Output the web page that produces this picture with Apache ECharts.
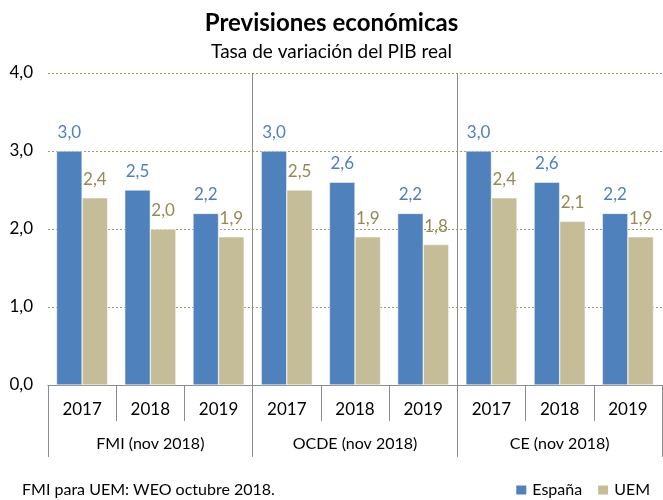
<!DOCTYPE html>
<html><head><meta charset="utf-8">
<script src="https://cdn.jsdelivr.net/npm/echarts@6/dist/echarts.min.js"></script>
<style>html,body{margin:0;padding:0;background:#fff}#c{width:663px;height:500px}</style>
</head><body><div id="c"></div>
<script>
const years = ['2017','2018','2019','2017','2018','2019','2017','2018','2019'];
const groups = ['FMI (nov 2018)','OCDE (nov 2018)','CE (nov 2018)'];
const espana = [3.0,2.5,2.2,3.0,2.6,2.2,3.0,2.6,2.2];
const uem = [2.4,2.0,1.9,2.5,1.9,1.8,2.4,2.1,1.9];
const yTicks = [0,1,2,3,4];
const FONT = 'Lato';
const fmt = v => Number(v).toFixed(1).replace('.', ',');
const chart = echarts.init(document.getElementById('c'), null, {renderer:'canvas'});
chart.setOption({
  animation:false,
  textStyle:{fontFamily:FONT},
  title:[
    {text:'Previsiones económicas', left:'center', top:6, textStyle:{fontFamily:FONT,fontSize:24,fontWeight:'bold',color:'#000'}},
    {text:'Tasa de variación del PIB real', left:'center', top:37, textStyle:{fontFamily:FONT,fontSize:19,fontWeight:'normal',color:'#000'}},
    {text:'FMI para UEM: WEO octubre 2018.', left:17, top:477, textStyle:{fontFamily:FONT,fontSize:16,fontWeight:'normal',color:'#000'}}
  ],
  legend:{right:8, top:477, itemWidth:12, itemHeight:11, itemGap:14, icon:'rect',
    textStyle:{fontFamily:FONT,fontSize:16,color:'#000'}, data:['España','UEM']},
  grid:{left:48, right:1, top:73, bottom:115, containLabel:false},
  xAxis:[
    {type:'category', data:years, position:'bottom',
     axisLine:{show:true, lineStyle:{color:'#8c8c8c', width:1}},
     axisTick:{show:true, length:36, lineStyle:{color:'#8c8c8c'}},
     axisLabel:{margin:16, fontSize:17, color:'#000', fontFamily:FONT},
     splitLine:{show:false}},
    {type:'category', data:groups, position:'bottom',
     axisLine:{show:false},
     axisTick:{show:true, length:72, lineStyle:{color:'#8c8c8c'}},
     axisLabel:{margin:51, fontSize:16, color:'#000', fontFamily:FONT},
     splitLine:{show:true, showMinLine:false, showMaxLine:false, lineStyle:{color:'#8c8c8c', width:1}}}
  ],
  yAxis:{type:'value', min:yTicks[0], max:yTicks[yTicks.length-1], interval:1,
    axisLine:{show:false}, axisTick:{show:false},
    axisLabel:{margin:15, fontSize:17, color:'#000', fontFamily:FONT, formatter:fmt},
    splitLine:{show:true, lineStyle:{color:'#a39a68', type:[2,2], width:1}}},
  series:[
    {name:'España', type:'bar', xAxisIndex:0, data:espana, barGap:'0%', barCategoryGap:'25%',
     itemStyle:{color:'#4F81BD', borderColor:'#fff', borderWidth:0.5},
     label:{show:true, position:'top', distance:10, formatter:p=>fmt(p.value), color:'#4F81BD', fontSize:17, fontFamily:FONT}},
    {name:'UEM', type:'bar', xAxisIndex:0, data:uem,
     itemStyle:{color:'#C4BD97', borderColor:'#fff', borderWidth:0.5},
     label:{show:true, position:'top', distance:10, formatter:p=>fmt(p.value), color:'#948A54', fontSize:17, fontFamily:FONT}}
  ]
});
</script></body></html>
